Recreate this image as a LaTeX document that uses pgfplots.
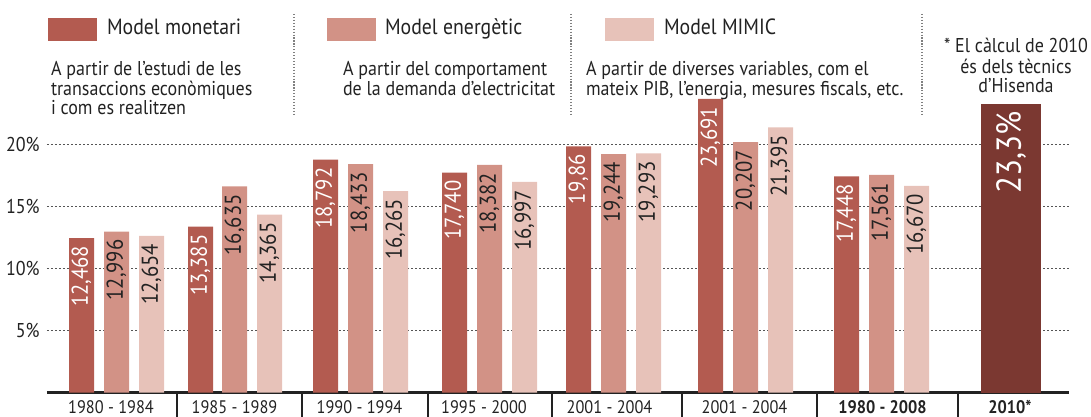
\documentclass[border=0pt]{standalone}
\usepackage{fontspec}
\setmainfont[FakeStretch=0.9]{PT Sans}
\usepackage{pgfplots}
\pgfplotsset{compat=1.18}
\usepackage{pgfplotstable}
\definecolor{cMon}{HTML}{B35B50}
\definecolor{cEne}{HTML}{D29286}
\definecolor{cMim}{HTML}{E7C2B9}
\definecolor{cDark}{HTML}{7B3831}
\definecolor{cTxt}{HTML}{222222}
\definecolor{cGrid}{HTML}{555555}

\pgfplotstableread{
x y lab
81.5 12.468 12,468
200.5 13.385 13,385
325.5 18.792 18,792
454.5 17.740 17,740
578.5 19.86 19,86
710.5 23.691 23,691
846.5 17.448 17,448
}\monetari
\pgfplotstableread{
x y lab
116.5 12.996 12,996
234.5 16.635 16,635
360.5 18.433 18,433
489.5 18.382 18,382
613.5 19.244 19,244
745.5 20.207 20,207
881.5 17.561 17,561
}\energetic
\pgfplotstableread{
x y lab
151.5 12.654 12,654
269.5 14.365 14,365
395.5 16.265 16,265
524.5 16.997 16,997
648.5 19.293 19,293
780.5 21.395 21,395
916.5 16.670 16,670
}\mimic
\pgfplotstableread{
x y lab
1011 23.3 23,3\%
}\hisenda

\begin{document}
\begin{tikzpicture}
\begin{axis}[
  x=0.75pt, y=9.3pt,
  xmin=47, xmax=1069, ymin=0, ymax=31.669,
  clip=false,
  axis x line=bottom, axis y line=left,
  y axis line style={draw=none},
  x axis line style={line width=2.2pt, draw=cTxt, -},
  /pgf/number format/assume math mode=true,
  ytick={5,10,15,20}, yticklabels={5\%,10\%,15\%,20\%},
  ytick style={draw=none},
  ymajorgrids,
  grid style={draw=cGrid, line width=0.8pt, dash pattern=on 1.4pt off 1.6pt},
  yticklabel style={anchor=east, inner sep=0pt, xshift=-3.2pt, text=cTxt,
    font=\fontsize{15pt}{15pt}\selectfont},
  xtick={111,234.5,359.5,484,609.5,744.5,882.5,1010},
  xticklabels={1980 - 1984,1985 - 1989,1990 - 1994,1995 - 2000,2001 - 2004,2001 - 2004,\bfseries 1980 - 2008,\bfseries 2010*},
  xtick style={draw=none},
  xticklabel style={anchor=north, inner sep=0pt, yshift=-3.6pt, text=cTxt,
    font=\fontsize{13.6pt}{14pt}\selectfont},
  bar width=25,
  nodes near coords, point meta=explicit symbolic,
  every node near coord/.append style={rotate=90, anchor=east, inner xsep=6pt,
    inner ysep=0pt, outer sep=0pt, font=\fontsize{17.2pt}{18pt}\selectfont},
]
\addplot[ybar, draw=none, fill=cMon, every node near coord/.append style={text=white}]
  table[x=x, y=y, meta=lab] {\monetari};
\addplot[ybar, draw=none, fill=cEne, every node near coord/.append style={text=cTxt}]
  table[x=x, y=y, meta=lab] {\energetic};
\addplot[ybar, draw=none, fill=cMim, every node near coord/.append style={text=cTxt}]
  table[x=x, y=y, meta=lab] {\mimic};
\addplot[ybar, bar width=60, draw=none, fill=cDark,
  every node near coord/.append style={text=white, inner xsep=6pt,
    font=\fontsize{26pt}{27pt}\selectfont}]
  table[x=x, y=y, meta=lab] {\hisenda};
\foreach \s in {177,302,428,552,682,817,958}{
  \edef\tmp{\noexpand\draw[cTxt, line width=1.5pt] (axis cs:\s,0) -- (axis cs:\s,-1.96);}\tmp
}
\coordinate (TL) at (axis cs:0,31.669);
\end{axis}
\begin{scope}[shift={(TL)}, x=0.75pt, y=-0.75pt]
  % legend swatches
  \fill[cMon] (48,18) rectangle (97,41);
  \fill[cEne] (327,18) rectangle (376,41);
  \fill[cMim] (605,18) rectangle (654,41);
  \begin{scope}[every node/.style={inner sep=0pt, outer sep=0pt, text=cTxt}]
    \node[anchor=base west, font=\fontsize{16.5pt}{17pt}\selectfont] at (107,35) {Model monetari};
    \node[anchor=base west, font=\fontsize{16.5pt}{17pt}\selectfont] at (385,35) {Model energètic};
    \node[anchor=base west, font=\fontsize{16.5pt}{17pt}\selectfont] at (664,35) {Model MIMIC};
    \begin{scope}[every node/.append style={font=\fontsize{15pt}{15pt}\selectfont}]
      \node[anchor=base west] at (51,76) {A partir de l’estudi de les};
      \node[anchor=base west] at (51,96) {transaccions econòmiques};
      \node[anchor=base west] at (51,115) {i com es realitzen};
      \node[anchor=base west] at (343,76) {A partir del comportament};
      \node[anchor=base west] at (343,96) {de la demanda d’electricitat};
      \node[anchor=base west] at (586,76) {A partir de diverses variables, com el};
      \node[anchor=base west] at (586,96) {mateix PIB, l’energia, mesures fiscals, etc.};
      \node[anchor=base] at (1016,53) {* El càlcul de 2010};
      \node[anchor=base] at (1016,74) {és dels tècnics};
      \node[anchor=base] at (1016,93) {d’Hisenda};
    \end{scope}
  \end{scope}
  \foreach \s in {294,571,922}{
    \draw[color=gray, line width=0.9pt, dash pattern=on 0.9pt off 1.3pt] (\s,14) -- (\s,115);
  }
\end{scope}
\pgfresetboundingbox
\path (TL) rectangle ++(818.25pt,-312.75pt);
\end{tikzpicture}
\end{document}
